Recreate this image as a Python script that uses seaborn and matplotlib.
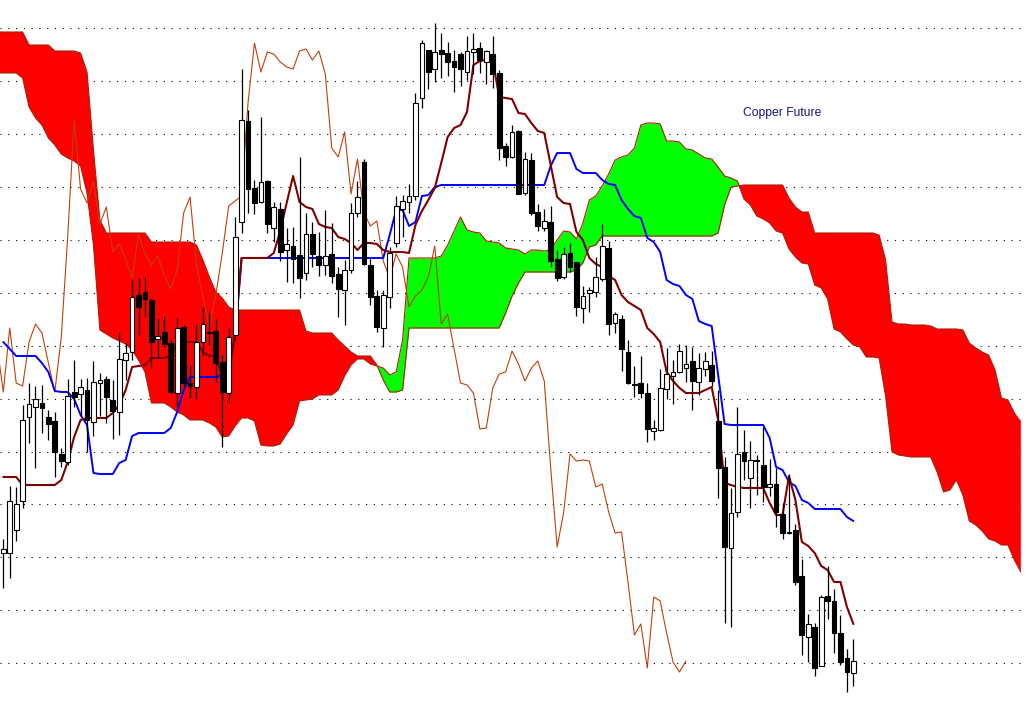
import numpy as np
import pandas as pd
import seaborn as sns
import matplotlib
matplotlib.use("Agg")
import matplotlib.pyplot as plt

# Copper future, daily candles + Ichimoku lines (price in index points)
opens = [447, 447, 470, 499, 583, 593, 597, 583, 579, 546,
         538, 608, 606, 610, 578, 617, 621, 600, 588, 640,
         648, 705, 708, 700, 661, 668, 657, 607, 673, 617,
         613, 658, 668, 669, 638, 607, 665, 778, 879, 812,
         798, 819, 772, 791, 750, 754, 745, 727, 766, 744,
         735, 746, 726, 710, 730, 787, 838, 735, 704, 672,
         703, 757, 791, 798, 804, 902, 950, 931, 950, 947,
         939, 946, 928, 948, 952, 938, 946, 927, 854, 843,
         869, 807, 840, 788, 772, 778, 741, 723, 747, 738,
         692, 707, 708, 721, 752, 677, 681, 648, 616, 617,
         607, 569, 570, 611, 624, 628, 632, 639, 618, 631,
         635, 579, 533, 452, 488, 548, 522, 540, 535, 513,
         516, 486, 467, 470, 424, 363, 373, 334, 404, 399,
         367, 342, 327]
highs = [461, 514, 513, 595, 617, 614, 615, 590, 588, 552,
         621, 640, 621, 622, 639, 627, 624, 620, 668, 657,
         720, 722, 723, 702, 681, 684, 660, 682, 675, 635,
         675, 693, 688, 681, 645, 672, 783, 931, 890, 820,
         883, 820, 798, 798, 772, 773, 843, 787, 778, 768,
         790, 777, 733, 740, 797, 819, 841, 742, 710, 710,
         753, 804, 805, 816, 907, 960, 950, 977, 967, 958,
         950, 948, 964, 967, 958, 950, 964, 930, 857, 875,
         870, 848, 847, 796, 791, 794, 750, 753, 757, 738,
         714, 713, 743, 776, 759, 688, 685, 660, 634, 644,
         617, 580, 631, 652, 640, 656, 655, 653, 647, 648,
         649, 610, 543, 512, 593, 570, 559, 545, 573, 541,
         532, 497, 526, 476, 441, 386, 377, 405, 434, 411,
         385, 351, 361]
lows = [412, 422, 459, 492, 557, 532, 567, 560, 523, 533,
        535, 593, 584, 548, 564, 584, 577, 561, 565, 620,
        640, 665, 684, 632, 642, 653, 607, 594, 612, 602,
        601, 645, 655, 618, 553, 597, 660, 767, 787, 786,
        797, 767, 758, 739, 718, 717, 702, 720, 733, 724,
        725, 717, 683, 675, 727, 783, 735, 695, 668, 653,
        692, 753, 763, 787, 800, 892, 911, 918, 922, 924,
        908, 914, 920, 926, 927, 916, 912, 840, 834, 842,
        806, 805, 785, 769, 769, 733, 719, 721, 728, 684,
        677, 688, 703, 719, 665, 667, 629, 616, 603, 602,
        558, 560, 569, 601, 596, 627, 618, 590, 605, 624,
        614, 502, 377, 373, 483, 520, 492, 505, 498, 504,
        473, 461, 466, 415, 345, 338, 324, 334, 381, 347,
        335, 308, 314]
closes = [451, 499, 496, 580, 596, 601, 592, 576, 548, 539,
          604, 603, 613, 580, 618, 620, 603, 589, 641, 647,
          703, 693, 701, 658, 664, 656, 608, 672, 617, 614,
          658, 676, 667, 637, 608, 663, 763, 880, 811, 797,
          818, 776, 793, 748, 756, 741, 722, 766, 746, 735,
          744, 724, 711, 730, 787, 803, 736, 703, 673, 705,
          747, 794, 799, 804, 897, 957, 928, 948, 946, 938,
          933, 931, 949, 951, 940, 949, 926, 852, 843, 868,
          806, 841, 787, 774, 779, 739, 722, 746, 733, 693,
          704, 710, 723, 754, 676, 686, 651, 617, 615, 607,
          571, 572, 612, 626, 628, 649, 636, 619, 632, 639,
          619, 532, 453, 487, 546, 539, 540, 539, 513, 516,
          488, 467, 468, 418, 365, 376, 332, 403, 399, 367,
          338, 328, 339]

tenkan = [523, 523, 523, 515, 515, 515, 515, 515, 515, 520,
          538, 563, 580, 582, 582, 582, 582, 587, 595, 610,
          633, 634, 635, 642, 642, 642, 644, 658, 658, 658,
          658, 648, 644, 644, 623, 624, 668, 742, 742, 742,
          742, 742, 747, 769, 797, 824, 798, 793, 791, 776,
          773, 772, 763, 761, 757, 750, 757, 757, 756, 750,
          748, 748, 748, 747, 775, 789, 800, 812, 837, 863,
          872, 875, 888, 935, 939, 940, 940, 903, 902, 901,
          887, 886, 877, 869, 867, 835, 803, 797, 796, 768,
          760, 742, 736, 733, 724, 720, 705, 698, 694, 690,
          672, 666, 658, 628, 619, 612, 607, 607, 607, 610,
          613, 580, 517, 515, 513, 512, 512, 512, 512, 497,
          485, 485, 524, 500, 458, 454, 447, 434, 430, 418,
          418, 393, 376]
kijun = [658, 651, 644, 644, 644, 644, 637, 628, 609, 608,
         608, 601, 585, 575, 527, 526, 526, 526, 537, 540,
         564, 567, 567, 567, 567, 567, 572, 588, 610, 623,
         623, 623, 623, 623, 625, 634, 664, 742, 742, 742,
         742, 742, 742, 742, 742, 742, 742, 742, 742, 742,
         742, 742, 742, 742, 742, 742, 742, 742, 742, 742,
         765, 790, 790, 774, 778, 804, 805, 813, 815, 815,
         815, 815, 815, 815, 815, 815, 815, 815, 815, 815,
         815, 815, 815, 815, 815, 834, 847, 847, 847, 831,
         827, 827, 827, 820, 816, 815, 800, 791, 784, 782,
         762, 758, 748, 720, 716, 714, 705, 701, 679, 676,
         674, 625, 576, 575, 575, 575, 575, 575, 575, 562,
         533, 530, 518, 514, 500, 497, 491, 491, 491, 491,
         491, 483, 479]

# cloud: starts one slot left of the first candle, runs 26 bars past the last
span_a = [927, 927, 927, 927, 922, 893, 882, 875, 862, 855, 846,
          842, 839, 834, 807, 755, 670, 666, 662, 659, 656,
          650, 640, 628, 597, 597, 597, 593, 588, 585, 580,
          580, 580, 577, 573, 563, 564, 574, 582, 582, 579,
          555, 554, 554, 556, 566, 575, 599, 600, 601, 605,
          605, 605, 610, 624, 635, 641, 641, 636, 634, 632,
          625, 628, 660, 742, 742, 742, 742, 742, 744, 755,
          769, 783, 770, 768, 767, 759, 758, 757, 752, 751,
          750, 746, 750, 750, 749, 750, 760, 769, 768, 761,
          777, 800, 804, 814, 826, 840, 843, 845, 852, 875,
          877, 877, 876, 859, 859, 858, 851, 850, 846, 842,
          841, 833, 824, 822, 819, 801, 795, 784, 781, 777,
          769, 767, 751, 743, 737, 736, 715, 712, 701, 671,
          668, 661, 655, 653, 643, 643, 642, 604, 548, 545,
          544, 543, 543, 543, 543, 528, 508, 510, 520, 505,
          479, 475, 469, 461, 459, 455, 455, 440, 428]
span_b = [968, 968, 968, 968, 968, 955, 955, 955, 955, 949, 949,
          949, 949, 947, 928, 850, 780, 767, 767, 767, 767,
          767, 767, 767, 758, 758, 758, 758, 758, 758, 758,
          755, 740, 723, 708, 702, 693, 690, 690, 690, 690,
          690, 690, 690, 690, 690, 690, 690, 669, 667, 667,
          667, 667, 660, 654, 648, 644, 644, 644, 635, 620,
          608, 608, 610, 672, 672, 672, 672, 672, 672, 672,
          672, 672, 672, 672, 672, 672, 672, 672, 687, 704,
          717, 728, 728, 728, 728, 728, 728, 728, 728, 730,
          737, 753, 755, 764, 764, 764, 764, 764, 764, 764,
          764, 764, 764, 764, 764, 764, 764, 764, 764, 764,
          764, 767, 795, 813, 814, 815, 815, 815, 815, 815,
          815, 815, 802, 793, 788, 788, 767, 767, 767, 767,
          767, 767, 767, 767, 767, 767, 765, 740, 678, 676,
          676, 675, 675, 675, 674, 671, 671, 671, 671, 670,
          657, 652, 648, 645, 630, 602, 600, 587, 578]

SHIFT = 26
TITLE = "Copper Future"


def draw_chart():
    n = len(closes)
    bars = pd.DataFrame({"bar": np.arange(n), "open": opens, "high": highs,
                         "low": lows, "close": closes,
                         "tenkan": tenkan, "kijun": kijun})
    cloud = pd.DataFrame({"slot": np.arange(len(span_a)) - 1,
                          "span_a": span_a, "span_b": span_b})
    # chikou span = close plotted 26 bars back (from the bar left of the view)
    lag = pd.DataFrame({"bar": np.arange(-1, n - SHIFT),
                        "chikou": closes[SHIFT - 1:]})

    sns.set_style("white")
    fig = plt.figure(figsize=(10.25, 7.09), dpi=100)
    ax = fig.add_axes([0, 0, 1, 1])

    a = cloud["span_a"].to_numpy()
    b = cloud["span_b"].to_numpy()
    ax.fill_between(cloud["slot"], a, b, where=a >= b, interpolate=True,
                    color="#00ff00", linewidth=0, zorder=1)
    ax.fill_between(cloud["slot"], a, b, where=a <= b, interpolate=True,
                    color="#ff0000", linewidth=0, zorder=1)
    sns.lineplot(data=cloud, x="slot", y="span_a", ax=ax, color="#a8200a",
                 linewidth=0.8, zorder=2)
    sns.lineplot(data=cloud, x="slot", y="span_b", ax=ax, color="#a8200a",
                 linewidth=0.8, zorder=2)

    sns.lineplot(data=lag, x="bar", y="chikou", ax=ax, color="#c0400a",
                 linewidth=0.8, zorder=3)
    sns.lineplot(data=bars, x="bar", y="kijun", ax=ax, color="#0000ff",
                 linewidth=1.4, zorder=4)
    sns.lineplot(data=bars, x="bar", y="tenkan", ax=ax, color="#800000",
                 linewidth=1.5, zorder=4)

    # candles
    ax.vlines(bars["bar"], bars["low"], bars["high"], color="black",
              linewidth=0.9, zorder=9)
    up = bars["close"] >= bars["open"]
    body_lo = np.minimum(bars["open"], bars["close"])
    body_h = np.maximum((bars["close"] - bars["open"]).abs(), 0.8)
    ax.bar(bars["bar"], body_h, bottom=body_lo, width=0.74,
           color=np.where(up, "white", "black"), edgecolor="black",
           linewidth=0.8, zorder=10)

    ax.text(0.725, 0.84, TITLE, transform=ax.transAxes, ha="left", va="center",
            fontsize=8.7, color="#14148a", family=["Liberation Sans", "DejaVu Sans"])

    ax.set_xlim(-0.512, 158.65)
    ax.set_ylim(291, 1000)
    ax.set_yticks(971.7 - 52.9 * np.arange(13))
    ax.set_xticks([])
    ax.tick_params(left=False, labelleft=False)
    ax.grid(axis="y", color="black", linestyle=(0, (1, 6)), linewidth=0.8)
    ax.set_axisbelow(True)
    ax.set_xlabel("")
    ax.set_ylabel("")
    for s in ax.spines.values():
        s.set_visible(False)

    fig.savefig("out.png", dpi=100)


if __name__ == "__main__":
    draw_chart()
